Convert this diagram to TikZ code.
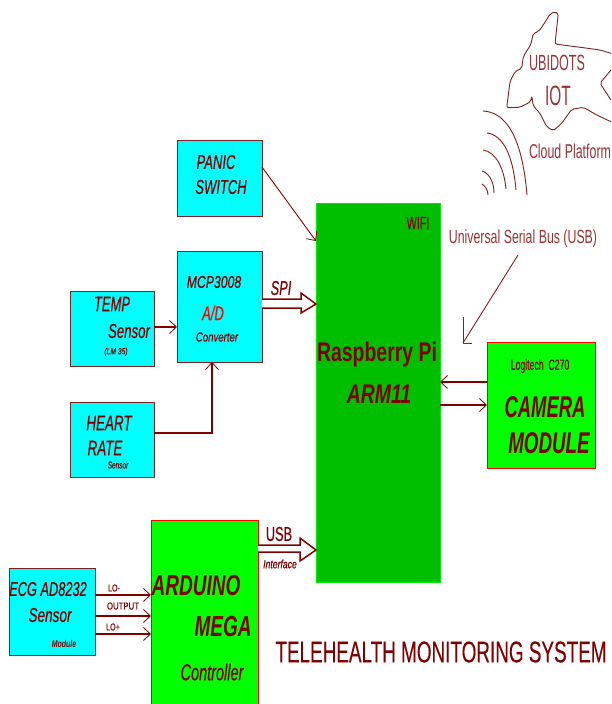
\documentclass[tikz,border=0pt]{standalone}
\usepackage{graphicx}
\usepackage{fontspec}
\setmainfont{Liberation Sans}[UprightFeatures={FakeBold=0.25},ItalicFeatures={FakeBold=0.7}]
\newfontfamily\lightfont{Liberation Sans}
\usetikzlibrary{arrows.meta}
\definecolor{mar}{HTML}{800000}
\definecolor{edgeb}{HTML}{7F2020}
\definecolor{cya}{HTML}{00FFFF}
\definecolor{gre}{HTML}{00FF00}
\definecolor{dgre}{HTML}{00BF00}
\newcommand\T[3]{\scalebox{#2}[1]{\fontsize{#1}{#1}\selectfont #3}}
\tikzset{
  block/.style={draw=#1,line width=1.4pt,anchor=north west,inner sep=0pt},
  cyanbox/.style={block=edgeb,fill=cya},
  greenbox/.style={block=red,fill=gre},
  lbl/.style={inner sep=0pt,text=mar},
  thin lbl/.style={inner sep=0pt,text=mar!80!white,font=\lightfont},
  conn/.style={draw=mar,line width=1.5pt,-{Straight Barb[length=7pt,width=13pt,line width=.8pt]}},
  fine/.style={draw=edgeb,line width=.9pt,line join=round},
  hollow/.style={draw=mar,line width=1.5pt,fill=white,line join=miter}
}
\begin{document}
\begin{tikzpicture}[x=1pt,y=-1pt]
\useasboundingbox (0,0) rectangle (611,704);
\fill[white] (0,0) rectangle (611,704);
% boxes
\node[cyanbox,minimum width=85pt,minimum height=76pt] (panic) at (177,140) {};
\node[cyanbox,minimum width=85pt,minimum height=111pt] (mcp) at (177,251) {};
\node[cyanbox,minimum width=84pt,minimum height=75pt] (temp) at (70,291) {};
\node[cyanbox,minimum width=84pt,minimum height=75pt] (heart) at (70,402) {};
\node[block=gre!70!dgre,line width=.8pt,fill=dgre,minimum width=124pt,minimum height=379pt] (rpi) at (316,203) {};
\node[greenbox,minimum width=108pt,minimum height=126pt] (cam) at (487,342) {};
\clip (0,0) rectangle (611,704);
\node[greenbox,minimum width=107pt,minimum height=190pt] (ard) at (151,520) {};
\node[cyanbox,minimum width=86pt,minimum height=87pt] (ecg) at (9,568) {};
% coordinates
\coordinate (pe) at (262,167); \coordinate (pt) at (316,241);
\coordinate (te) at (154,327); \coordinate (tt) at (177,327);
\coordinate (he) at (154,433); \coordinate (hb) at (212,433); \coordinate (ht) at (212,362);
\coordinate (e1) at (95,595); \coordinate (a1) at (151,595);
\coordinate (e2) at (95,616); \coordinate (a2) at (151,616);
\coordinate (e3) at (95,634); \coordinate (a3) at (151,634);
\coordinate (c1) at (487,382); \coordinate (r1) at (440,382);
\coordinate (r2) at (440,405); \coordinate (c2) at (487,405);
\coordinate (us) at (518,255); \coordinate (ut) at (463,343);
% connectors
\draw[conn,line width=.9pt] (pe) -- (pt);
\draw[conn] (te) -- (tt);
\draw[conn] (he) -- (hb) -- (ht);
\draw[conn] (e1) -- (a1);
\draw[conn] (e2) -- (a2);
\draw[conn] (e3) -- (a3);
\draw[conn] (c1) -- (r1);
\draw[conn] (r2) -- (c2);
\draw[fine] (us) -- (ut);
\draw[fine,line width=1pt] (463,317) -- (ut) -- (472,343);
% hollow arrows
\draw[hollow] (262,299) -- (301,299) -- (301,293) -- (316,304) -- (301,313) -- (301,308) -- (262,308);
\draw[hollow] (258,545) -- (300,545) -- (300,538) -- (316,550) -- (300,561) -- (300,552) -- (258,552);
% cloud
\draw[fine,rounded corners=2pt] (611,53.3) -- (600,50) -- (583.3,47.7) -- (555,44) -- (558.3,13.3) -- (555,11.7) -- (550,14) -- (543.3,25) -- (538.3,31.7) -- (533.3,33.3) -- (530.7,45) -- (527.3,50) -- (523.3,56.7) -- (521.7,68.3) -- (515,71.7) -- (510,81.7) -- (506.7,107.7) -- (520,107.3) -- (530.7,101.7) -- (531.7,96) -- (533.3,106) -- (540,113.3) -- (546.7,126.7) -- (553.3,130.7) -- (561.7,123.3) -- (571.7,109.3) -- (583.3,107.3) -- (596.7,115) -- (611,121.7);
\draw[fine,rounded corners=2pt] (611,70) -- (600,83.3) -- (611,100);
% signal arcs
\draw[fine] (483,111) .. controls (505,112) and (522,135) .. (527,195);
\draw[fine] (487,133) .. controls (503,135) and (513,155) .. (516,190);
\draw[fine] (483,150) .. controls (496,152) and (504,168) .. (506,189);
\draw[fine] (482,171) .. controls (489,173) and (494,182) .. (494,193);
\draw[fine] (482,184) .. controls (485,186) and (488,190) .. (488,195);
% text
\node[lbl] (t1) at (216,162) {\T{20}{.65}{\itshape PANIC}};
\node[lbl] (t2) at (221,187) {\T{20}{.65}{\itshape SWITCH}};
\node[lbl] (t3) at (214,282) {\T{17}{.72}{\itshape MCP3008}};
\node[text=red,inner sep=0pt] (t4) at (213,313) {\T{20}{.65}{\itshape A/D}};
\node[lbl] (t5) at (217,337) {\T{13}{.74}{\itshape Converter}};
\node[lbl] (t6) at (112,304) {\T{21}{.62}{\itshape TEMP}};
\node[lbl] (t7) at (129,331) {\T{20}{.66}{\itshape Sensor}};
\node[lbl] (t8) at (116,352) {\T{9}{.75}{\itshape (LM 35)}};
\node[lbl] (t9) at (109,423) {\T{21}{.64}{\itshape HEART}};
\node[lbl] (t10) at (105,448) {\T{21}{.64}{\itshape RATE}};
\node[lbl] (t11) at (118,465) {\T{10}{.65}{\itshape Sensor}};
\node[lbl] (t12) at (281,288) {\T{20}{.64}{\itshape SPI}};
\node[lbl] (t13) at (418,223) {\T{18}{.6}{WIFI}};
\node[lbl] (t14) at (377,355) {\T{27}{.72}{\bfseries Raspberry Pi}};
\node[lbl] (t15) at (379,394) {\T{27}{.72}{\bfseries\itshape ARM11}};
\node[thin lbl] (t16) at (523,239) {\T{19}{.65}{Universal Serial Bus (USB)}};
\node[lbl] (t17) at (540,366) {\T{15}{.58}{Logitech\ \ C270}};
\node[lbl] (t18) at (545,407) {\T{30}{.615}{\bfseries\itshape CAMERA}};
\node[lbl] (t19) at (549,443) {\T{30}{.627}{\bfseries\itshape MODULE}};
\node[thin lbl] (t20) at (557,63) {\T{22}{.57}{UBIDOTS}};
\node[thin lbl] (t21) at (558,96) {\T{28}{.55}{IOT}};
\node[thin lbl] (t22) at (570,151) {\T{20}{.62}{Cloud Platform}};
\node[lbl] (t23) at (279,534) {\T{20}{.64}{USB}};
\node[lbl] (t24) at (280,564) {\T{12}{.72}{\itshape Interface}};
\node[lbl] (t25) at (196,586) {\T{29}{.655}{\bfseries\itshape ARDUINO}};
\node[lbl] (t26) at (223,627) {\T{29}{.655}{\bfseries\itshape MEGA}};
\node[lbl] (t27) at (212,672) {\T{23}{.63}{\itshape Controller}};
\node[lbl] (t28) at (48,589) {\T{20}{.64}{\itshape ECG AD8232}};
\node[lbl] (t29) at (50,615) {\T{20}{.68}{\itshape Sensor}};
\node[lbl] (t30) at (64,644) {\T{10}{.7}{\bfseries\itshape Module}};
\node[lbl] (t31) at (114,588) {\T{10}{.72}{LO-}};
\node[lbl] (t32) at (123,606) {\T{10}{.78}{OUTPUT}};
\node[lbl] (t33) at (113,627) {\T{10}{.72}{LO+}};
\node[lbl] (t34) at (441,652) {\T{30}{.63}{TELEHEALTH MONITORING SYSTEM}};
\end{tikzpicture}
\end{document}
